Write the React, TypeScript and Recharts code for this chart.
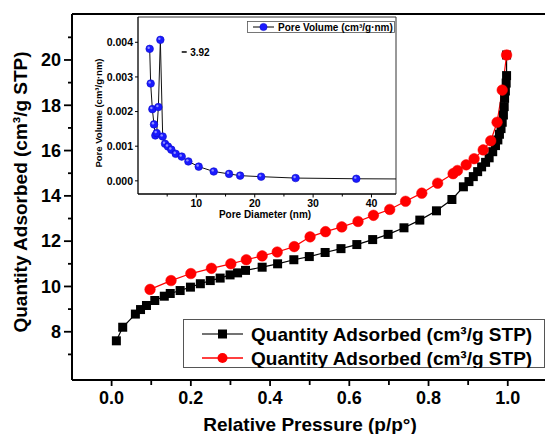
import React from 'react';
import { LineChart, Line, XAxis, YAxis, ReferenceLine, ReferenceDot, Legend } from 'recharts';

// Adsorption branch (black squares)
const adsP = [0.012, 0.028, 0.060, 0.073, 0.088, 0.109, 0.133, 0.148, 0.173, 0.199, 0.224, 0.249, 0.274, 0.299, 0.318, 0.338, 0.380, 0.419, 0.460, 0.499, 0.539, 0.579, 0.619, 0.659, 0.698, 0.738, 0.778, 0.820, 0.859, 0.888, 0.902, 0.913, 0.924, 0.934, 0.944, 0.953, 0.962, 0.969, 0.975, 0.979, 0.983, 0.986, 0.989, 0.991, 0.992, 0.994, 0.996, 0.997, 0.997];
const adsQ = [7.60, 8.20, 8.78, 8.98, 9.16, 9.38, 9.57, 9.69, 9.82, 9.97, 10.12, 10.26, 10.37, 10.51, 10.60, 10.71, 10.85, 11.00, 11.18, 11.32, 11.50, 11.67, 11.85, 12.07, 12.30, 12.59, 12.93, 13.34, 13.84, 14.40, 14.63, 14.85, 15.07, 15.28, 15.48, 15.68, 15.95, 16.22, 16.47, 16.72, 16.97, 17.25, 17.57, 17.94, 18.31, 18.63, 18.98, 19.31, 20.22];

// Desorption branch (red circles)
const desP = [0.097, 0.150, 0.200, 0.252, 0.301, 0.340, 0.380, 0.418, 0.461, 0.501, 0.540, 0.581, 0.622, 0.661, 0.702, 0.742, 0.783, 0.823, 0.862, 0.873, 0.895, 0.915, 0.938, 0.957, 0.973, 0.986, 0.997];
const desQ = [9.87, 10.26, 10.57, 10.80, 11.00, 11.18, 11.35, 11.52, 11.76, 12.19, 12.42, 12.63, 12.87, 13.14, 13.40, 13.76, 14.12, 14.56, 14.98, 15.12, 15.37, 15.64, 16.03, 16.43, 17.25, 18.67, 20.22];

// Inset: pore size distribution
const poreD = [2.0, 2.17, 2.46, 2.74, 2.97, 3.2, 3.49, 3.83, 4.23, 4.63, 5.14, 5.71, 6.46, 7.49, 8.63, 10.4, 12.97, 15.6, 17.5, 21.1, 27.0, 37.4, 50.0];
const poreV = [0.00381, 0.00281, 0.00207, 0.00163, 0.00131, 0.00138, 0.00213, 0.00407, 0.00128, 0.00107, 0.00099, 0.00090, 0.00078, 0.00070, 0.00056, 0.00041, 0.00027, 0.00020, 0.00015, 0.00012, 0.00008, 0.00006, 0.00005];

const xTicks = [0, 0.1, 0.2, 0.3, 0.4, 0.5, 0.6, 0.7, 0.8, 0.9, 1.0];
const yTicks = [7, 8, 9, 10, 11, 12, 13, 14, 15, 16, 17, 18, 19, 20, 21];
const insetXTicks = [5, 10, 15, 20, 25, 30, 35, 40];
const insetYTicks = [0, 0.001, 0.002, 0.003, 0.004];

const seriesName = 'Quantity Adsorbed (cm³/g STP)';
const insetName = 'Pore Volume (cm³/g·nm)';
const peakLabel = '3.92';

const adsData = adsP.map((x, i) => ({ x, y: adsQ[i] }));
const desData = desP.map((x, i) => ({ x, y: desQ[i] }));
const poreData = poreD.map((x, i) => ({ x, y: poreV[i] }));

const FONT = '"Liberation Sans", Arial, Helvetica, sans-serif';

// main plot geometry (styles)
const M_LEFT = 72;
const M_BOTTOM = 380;
// inset plot geometry (in inset coords)
const I_LEFT = 48;
const I_BOTTOM = 179;

const MainXTick = (props: any) => {
  const { payload } = props;
  const x = payload.coordinate;
  const v = payload.value;
  const major = Math.round(v * 10) % 2 === 0;
  return (
    <g>
      <line x1={x} x2={x} y1={M_BOTTOM} y2={M_BOTTOM + (major ? 6 : 5)} stroke="#000" strokeWidth={1.8} />
      {major && (
        <text x={x} y={M_BOTTOM + 24} textAnchor="middle" fontSize={18} fontWeight="bold" fontFamily={FONT} fill="#000">
          {v.toFixed(1)}
        </text>
      )}
    </g>
  );
};

const MainYTick = (props: any) => {
  const { payload } = props;
  const y = payload.coordinate;
  const v = payload.value;
  const major = v % 2 === 0;
  return (
    <g>
      <line x1={M_LEFT - (major ? 8 : 4)} x2={M_LEFT} y1={y} y2={y} stroke="#000" strokeWidth={1.8} />
      {major && (
        <text x={61} y={y + 6.3} textAnchor="end" fontSize={18} fontWeight="bold" fontFamily={FONT} fill="#000">
          {v}
        </text>
      )}
    </g>
  );
};

const InsetXTick = (props: any) => {
  const { payload } = props;
  const x = payload.coordinate;
  const v = payload.value;
  const major = v % 10 === 0;
  return (
    <g>
      <line x1={x} x2={x} y1={I_BOTTOM} y2={I_BOTTOM + (major ? 3.5 : 2.5)} stroke="#000" strokeWidth={1} />
      {major && (
        <text x={x} y={I_BOTTOM + 13} textAnchor="middle" fontSize={10.5} fontWeight="bold" fontFamily={FONT} fill="#000">
          {v}
        </text>
      )}
    </g>
  );
};

const InsetYTick = (props: any) => {
  const { payload } = props;
  const y = payload.coordinate;
  const v = payload.value;
  return (
    <g>
      <line x1={I_LEFT - 3} x2={I_LEFT} y1={y} y2={y} stroke="#000" strokeWidth={1} />
      <text x={I_LEFT - 5} y={y + 3.8} textAnchor="end" fontSize={10.5} fontWeight="bold" fontFamily={FONT} fill="#000">
        {v.toFixed(3)}
      </text>
    </g>
  );
};

const Square = (props: any) => {
  const { cx, cy } = props;
  if (cx == null || cy == null) return null;
  return <rect x={cx - 4.5} y={cy - 4.5} width={9} height={9} fill="#000" />;
};

const RedDot = (props: any) => {
  const { cx, cy } = props;
  if (cx == null || cy == null) return null;
  return <circle cx={cx} cy={cy} r={5.3} fill="#ff0000" stroke="#ff0000" strokeWidth={0.5} />;
};

const BlueDot = (props: any) => {
  const { cx, cy } = props;
  if (cx == null || cy == null) return null;
  return (
    <g>
      <circle cx={cx} cy={cy} r={3.8} fill="#1a1aff" stroke="#0c0cc8" strokeWidth={0.6} />
      <circle cx={cx - 1} cy={cy - 1.1} r={1.2} fill="#8f8fff" />
    </g>
  );
};

const MainLegend = () => (
  <svg width={362} height={49} style={{ display: 'block' }}>
    <rect x={0.5} y={0.5} width={361} height={48} fill="#fff" stroke="#555" strokeWidth={1} />
    <line x1={19} x2={60} y1={15} y2={15} stroke="#444" strokeWidth={1.5} />
    <rect x={35} y={10.5} width={9} height={9} fill="#000" />
    <text x={68} y={21.8} fontSize={19} fontWeight="bold" fontFamily={FONT} fill="#000">{seriesName}</text>
    <line x1={19} x2={60} y1={39} y2={39} stroke="#ff0000" strokeWidth={1.5} />
    <circle cx={39.5} cy={39} r={5} fill="#ff0000" />
    <text x={68} y={45.8} fontSize={19} fontWeight="bold" fontFamily={FONT} fill="#000">{seriesName}</text>
  </svg>
);

const InsetLegend = () => (
  <svg width={148} height={12} style={{ display: 'block' }}>
    <rect x={0.5} y={0.5} width={147} height={11} fill="#fff" stroke="#555" strokeWidth={0.8} />
    <line x1={6} x2={27} y1={6} y2={6} stroke="#000" strokeWidth={1} />
    <circle cx={16.5} cy={6} r={3.6} fill="#1a1aff" stroke="#0c0cc8" strokeWidth={0.6} />
    <text x={31} y={9.6} fontSize={10} fontWeight="bold" fontFamily={FONT} fill="#000">{insetName}</text>
  </svg>
);

const XLabel = () => (
  <text x={310} y={431} textAnchor="middle" fontSize={19} fontWeight="bold" fontFamily={FONT} fill="#000">
    Relative Pressure (p/p°)
  </text>
);

const YLabel = () => (
  <text x={27} y={192} transform="rotate(-90 27 192)" textAnchor="middle" fontSize={19} fontWeight="bold" fontFamily={FONT} fill="#000">
    {seriesName}
  </text>
);

const InsetXLabel = () => (
  <text x={175} y={203} textAnchor="middle" fontSize={10} fontWeight="bold" fontFamily={FONT} fill="#000">
    Pore Diameter (nm)
  </text>
);

const InsetYLabel = () => (
  <text x={12} y={98} transform="rotate(-90 12 98)" textAnchor="middle" fontSize={9.5} fontWeight="bold" fontFamily={FONT} fill="#000">
    {insetName}
  </text>
);

const PeakAnnotation = (props: any) => {
  const vb = props.viewBox || {};
  const x = vb.x ?? 0;
  const y = vb.y ?? 0;
  return (
    <g>
      <line x1={x} x2={x + 5} y1={y} y2={y} stroke="#000" strokeWidth={1.5} />
      <text x={x + 8.5} y={y + 3.8} fontSize={10} fontWeight="bold" fontFamily={FONT} fill="#000">{peakLabel}</text>
    </g>
  );
};

export default function App() {
  return (
    <div style={{ position: 'absolute', left: 0, top: 0, width: 545, height: 434, background: '#fff', overflow: 'hidden' }}>
      <LineChart width={545} height={434} margin={{ top: 14, right: 0, left: 12, bottom: 0 }}>
        <XAxis
          dataKey="x"
          type="number"
          domain={[-0.1, 1.094]}
          allowDataOverflow
          ticks={xTicks}
          interval={0}
          height={54}
          axisLine={{ stroke: '#000', strokeWidth: 2 }}
          tickLine={false}
          tick={<MainXTick />}
          label={<XLabel />}
        />
        <YAxis
          dataKey="y"
          type="number"
          domain={[5.87, 22.03]}
          allowDataOverflow
          ticks={yTicks}
          interval={0}
          width={60}
          axisLine={{ stroke: '#000', strokeWidth: 2 }}
          tickLine={false}
          tick={<MainYTick />}
          label={<YLabel />}
        />
        <ReferenceLine y={22.03} stroke="#000" strokeWidth={2} ifOverflow="visible" />
        <Line data={adsData} dataKey="y" stroke="#000" strokeWidth={1.2} dot={<Square />} activeDot={false} isAnimationActive={false} />
        <Line data={desData} dataKey="y" stroke="#ff0000" strokeWidth={1.2} dot={<RedDot />} activeDot={false} isAnimationActive={false} />
        <Legend
          layout="vertical"
          verticalAlign="middle"
          align="center"
          wrapperStyle={{ left: 183, top: 319, width: 362, height: 49 }}
          content={() => <MainLegend />}
        />
      </LineChart>
      <div style={{ position: 'absolute', left: 90, top: 15, width: 310, height: 210 }}>
        <LineChart width={310} height={210} margin={{ top: 2, right: 4, left: 2, bottom: 0 }}>
          <XAxis
            dataKey="x"
            type="number"
            domain={[0, 44.2]}
            allowDataOverflow
            ticks={insetXTicks}
            interval={0}
            height={31}
            axisLine={{ stroke: '#000', strokeWidth: 1.3 }}
            tickLine={false}
            tick={<InsetXTick />}
            label={<InsetXLabel />}
          />
          <YAxis
            dataKey="y"
            type="number"
            domain={[-0.00038, 0.00473]}
            allowDataOverflow
            ticks={insetYTicks}
            interval={0}
            width={46}
            axisLine={{ stroke: '#000', strokeWidth: 1.3 }}
            tickLine={false}
            tick={<InsetYTick />}
            label={<InsetYLabel />}
          />
          <ReferenceLine y={0.00473} stroke="#333" strokeWidth={1} ifOverflow="visible" />
          <ReferenceLine x={44.2} stroke="#333" strokeWidth={1} ifOverflow="visible" />
          <Line data={poreData} dataKey="y" stroke="#111" strokeWidth={1} dot={<BlueDot />} activeDot={false} isAnimationActive={false} />
          <ReferenceDot x={7.49} y={0.00372} r={0} fill="none" stroke="none" ifOverflow="visible" label={<PeakAnnotation />} />
          <Legend
            layout="vertical"
            verticalAlign="middle"
            align="center"
            wrapperStyle={{ left: 157, top: 6, width: 148, height: 12 }}
            content={() => <InsetLegend />}
          />
        </LineChart>
      </div>
    </div>
  );
}
